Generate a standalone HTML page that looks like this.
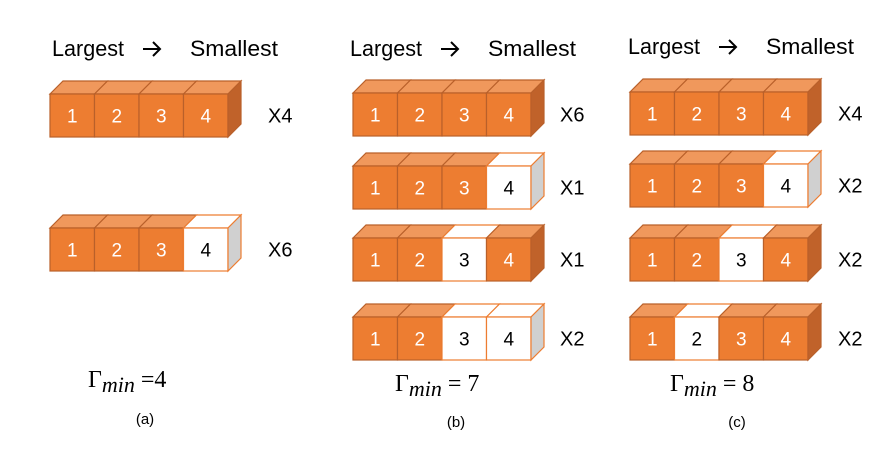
<!DOCTYPE html>
<html><head><meta charset="utf-8"><style>
html,body{margin:0;padding:0;background:#fff;}
svg{display:block;font-family:"Liberation Sans",sans-serif;}
</style></head><body>
<svg id="fig" width="889" height="456" viewBox="0 0 889 456"></svg>
<script>
const panels = [
  {x:50, label:"(a)", gamma:"4", gx:88, gy:387, lx:145, ly:424, hx:52, hy:56, mx:268, rows:[{y:94,f:[1,1,1,1],m:"X4"},{y:228,f:[1,1,1,0],m:"X6"}]},
  {x:353, label:"(b)", gamma:"7", gx:395, gy:391, lx:456, ly:427, hx:350, hy:56, mx:560, rows:[{y:93,f:[1,1,1,1],m:"X6"},{y:166,f:[1,1,1,0],m:"X1"},{y:238,f:[1,1,0,1],m:"X1"},{y:317,f:[1,1,0,0],m:"X2"}]},
  {x:630, label:"(c)", gamma:"8", gx:670, gy:391, lx:737, ly:427, hx:628, hy:54, mx:838, rows:[{y:92,f:[1,1,1,1],m:"X4"},{y:164,f:[1,1,1,0],m:"X2"},{y:238,f:[1,1,0,1],m:"X2"},{y:317,f:[1,0,1,1],m:"X2"}]}
];
const W=44.5,H=43,D=13;
const svg=document.getElementById('fig');
const NS="http://www.w3.org/2000/svg";
function mk(t,a,parent){const e=document.createElementNS(NS,t);for(const k in a)e.setAttribute(k,a[k]);(parent||svg).appendChild(e);return e;}
panels.forEach((p,pi)=>{
  const g=mk('g',{});
  
  
  const h1=mk('text',{x:p.hx,y:p.hy,'font-size':22,fill:'#000',textLength:72,lengthAdjust:'spacingAndGlyphs'},g);
  
  
  h1.textContent="Largest";
  const ar=mk('path',{d:`M${p.hx+91} ${p.hy-7} H${p.hx+108} M${p.hx+101} ${p.hy-14} L${p.hx+108} ${p.hy-7} L${p.hx+101} ${p.hy}`,stroke:'#000','stroke-width':2,fill:'none'},g);
  
  
  const h2=mk('text',{x:p.hx+138,y:p.hy,'font-size':22,fill:'#000',textLength:88,lengthAdjust:'spacingAndGlyphs'},g);
  
  
  h2.textContent="Smallest";
  p.rows.forEach((r,ri)=>{
    const rg=mk('g',{},g);
    
    
    r.f.forEach((f,i)=>{
      const x=p.x+i*W,y=r.y;
      const fill=f?'#ED7D31':'#fff',stroke=f?'#B9602A':'#ED7D31';
      mk('polygon',{points:`${x},${y} ${x+D},${y-D} ${x+W+D},${y-D} ${x+W},${y}`,fill:f?'#F0985C':'#fff',stroke:stroke,'stroke-width':1.2},rg);
      const c=mk('rect',{x:x,y:y,width:W,height:H,fill:fill,stroke:stroke,'stroke-width':1.2},rg);
      
      
      const t=mk('text',{x:x+W/2,y:y+H/2+7,'text-anchor':'middle','font-size':19,fill:f?'#fff':'#000'},rg);
      t.textContent=String(i+1);
    });
    const x=p.x+4*W,y=r.y,last=r.f[3];
    mk('polygon',{points:`${x},${y} ${x+D},${y-D} ${x+D},${y+H-D} ${x},${y+H}`,fill:last?'#C0622A':'#D0D0D0',stroke:last?'#B9602A':'#ED7D31','stroke-width':1.2},rg);
    const m=mk('text',{x:p.mx,y:r.y+H/2+7,'font-size':20,fill:'#000'},rg);
    
    
    m.textContent=r.m;
  });
  const gm=mk('text',{x:p.gx,y:p.gy,'font-size':24,fill:'#000','font-family':'"Liberation Serif",serif'},g);
  
  
  gm.innerHTML='\u0393<tspan font-style="italic" font-size="22" dy="5">min</tspan><tspan dy="-5">'+(pi==0?' =':' = ')+p.gamma+'</tspan>';
  const l=mk('text',{x:p.lx,y:p.ly,'font-size':15,'text-anchor':'middle',fill:'#000'},g);
  
  
  l.textContent=p.label;
});
</script>
</body></html>
